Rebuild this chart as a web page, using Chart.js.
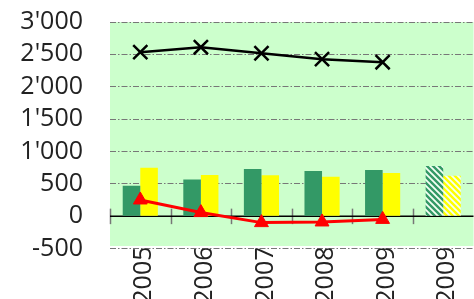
<!DOCTYPE html>
<html>
<head>
<meta charset="utf-8">
<script src="https://cdn.jsdelivr.net/npm/chart.js@4/dist/chart.umd.min.js"></script>
<style>
  html, body { margin: 0; padding: 0; background: #fff; overflow: hidden; }
  #wrap { width: 474px; height: 299px; overflow: hidden; position: relative; }
  canvas { display: block; }
</style>
</head>
<body>
<div id="wrap"><canvas id="c" width="486" height="299"></canvas></div>
<script>
// ---- data ----
const categories = ['2005', '2006', '2007', '2008', '2009', '2009'];
const greenBars  = [470, 568, 727, 697, 712, 774];
const yellowBars = [748, 635, 630, 608, 666, 624];
const projected  = [false, false, false, false, false, true];
const blackLine  = [2534, 2611, 2518, 2426, 2379, null];
const redLine    = [250, 55, -100, -90, -50, null];
const yTickValues = [-500, 0, 500, 1000, 1500, 2000, 2500, 3000];
const yTickLabels = ['-500', '0', '500', "1'000", "1'500", "2'000", "2'500", "3'000"];

// ---- hatch patterns ----
function hatch(color) {
  const s = 6;
  const c = document.createElement('canvas');
  c.width = s; c.height = s;
  const g = c.getContext('2d');
  g.fillStyle = color; g.fillRect(0, 0, s, s);
  g.strokeStyle = '#f4fff4'; g.lineWidth = 1.8;
  g.beginPath();
  g.moveTo(-1, -1); g.lineTo(s + 1, s + 1);
  g.moveTo(-1, s - 1); g.lineTo(1, s + 1);
  g.moveTo(s - 1, -1); g.lineTo(s + 1, 1);
  g.stroke();
  return g.createPattern(c, 'repeat');
}
const GREEN = '#339966', YELLOW = '#ffff00';
const greenHatch = hatch(GREEN), yellowHatch = hatch(YELLOW);

const bgPlugin = {
  id: 'bg',
  beforeDraw(chart) {
    const a = chart.chartArea, ctx = chart.ctx;
    ctx.save();
    ctx.fillStyle = '#ccffcc';
    ctx.fillRect(a.left, a.top, a.right - a.left, a.bottom - a.top - 2.5);
    ctx.restore();
  },
  beforeDatasetsDraw(chart) {
    const a = chart.chartArea, ctx = chart.ctx;
    const xs = chart.scales.x, ys = chart.scales.y;
    const y0 = ys.getPixelForValue(0);
    const half = (xs.getPixelForValue(1) - xs.getPixelForValue(0)) / 2;
    ctx.save();
    ctx.strokeStyle = '#777';
    ctx.lineWidth = 1.5;
    for (let i = 0; i < categories.length; i++) {
      const x = Math.round(xs.getPixelForValue(i) - half) + 0.5;
      ctx.beginPath();
      ctx.moveTo(x, y0 - 7.5);
      ctx.lineTo(x, y0 + 8);
      ctx.stroke();
    }
    ctx.strokeStyle = '#000';
    ctx.lineWidth = 1.5;
    ctx.beginPath();
    ctx.moveTo(a.left, y0);
    ctx.lineTo(a.right, y0);
    ctx.stroke();
    ctx.restore();
  }
};

const FONT = { family: '"Open Sans", "Noto Sans", sans-serif', size: 25 };

new Chart(document.getElementById('c'), {
  data: {
    labels: categories,
    datasets: [
      {
        type: 'line', data: blackLine, order: 0,
        borderColor: '#000', borderWidth: 2.5, tension: 0,
        pointStyle: 'crossRot', pointRadius: 10, pointBorderWidth: 2.5,
        pointBorderColor: '#000', pointBackgroundColor: '#000'
      },
      {
        type: 'line', data: redLine, order: 0,
        borderColor: '#ff0000', borderWidth: 3, tension: 0,
        pointStyle: 'triangle', pointRadius: 8, pointBorderWidth: 1,
        pointBorderColor: '#ff0000', pointBackgroundColor: '#ff0000'
      },
      {
        type: 'bar', data: greenBars, order: 1,
        backgroundColor: c => projected[c.dataIndex] ? greenHatch : GREEN,
        borderWidth: 0, categoryPercentage: 0.58, barPercentage: 1
      },
      {
        type: 'bar', data: yellowBars, order: 1,
        backgroundColor: c => projected[c.dataIndex] ? yellowHatch : YELLOW,
        borderWidth: 0, categoryPercentage: 0.58, barPercentage: 1
      }
    ]
  },
  options: {
    responsive: false,
    animation: false,
    layout: { padding: { top: 22, right: 0, left: 0, bottom: 0 } },
    plugins: { legend: { display: false }, tooltip: { enabled: false } },
    scales: {
      x: {
        grid: { display: false },
        border: { display: false },
        ticks: {
          color: '#222', font: FONT, minRotation: 90, maxRotation: 90,
          padding: -10, labelOffset: 4, autoSkip: false
        },
        afterFit: s => { s.height = 50.5; }
      },
      y: {
        min: -500, max: 3000,
        afterBuildTicks: s => { s.ticks = yTickValues.map(v => ({ value: v })); },
        grid: { color: '#777', lineWidth: 1, drawTicks: false },
        border: { display: false, dash: [6, 2, 1.5, 2] },
        ticks: {
          color: '#222', font: FONT, padding: 27, autoSkip: false,
          callback: v => yTickLabels[yTickValues.indexOf(v)]
        },
        afterFit: s => { s.width = 110; s.paddingTop = 0; s.paddingBottom = 0; }
      }
    }
  },
  plugins: [bgPlugin]
});
</script>
</body>
</html>
